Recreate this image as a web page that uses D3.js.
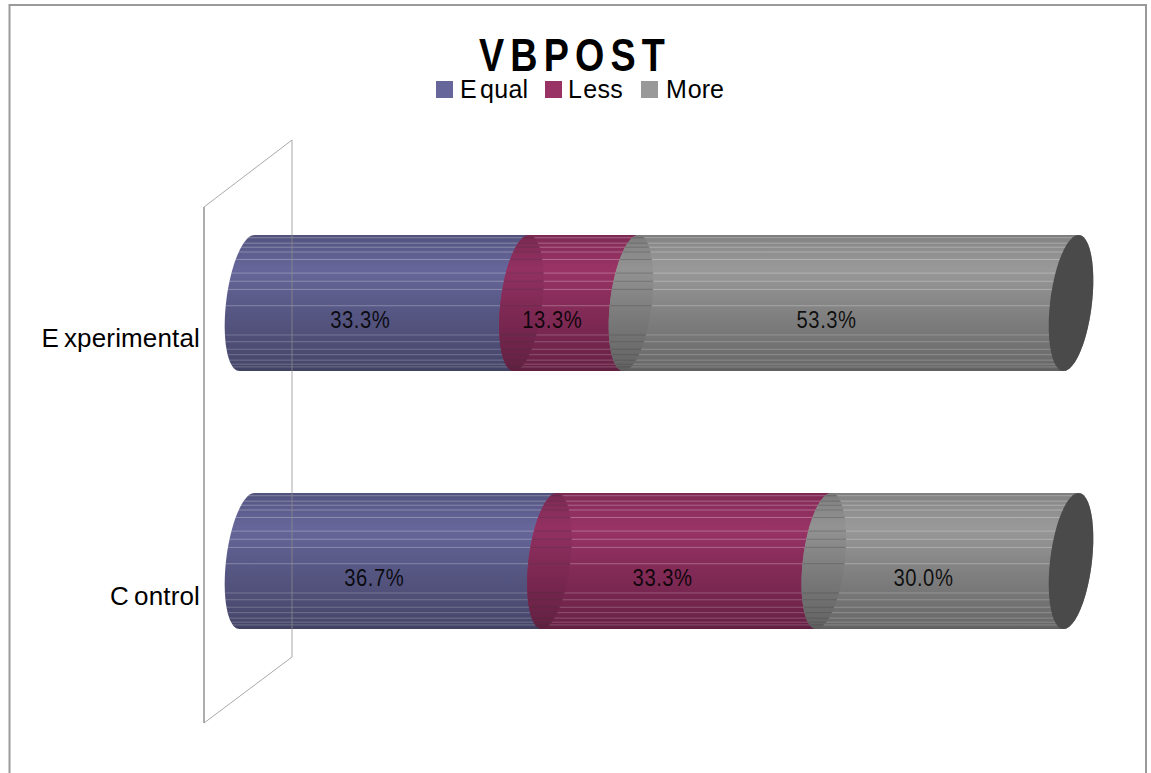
<!DOCTYPE html>
<html><head><meta charset="utf-8">
<script src="https://cdn.jsdelivr.net/npm/d3@7/dist/d3.min.js"></script>
<style>html,body{margin:0;padding:0;background:#fff;overflow:hidden}svg{display:block}text{font-family:"Liberation Sans",Arial,sans-serif;fill:#000}</style>
</head><body><div id="c"></div>
<script>
const categories = ["Experimental", "Control"];
const seriesNames = ["Equal", "Less", "More"];
const equalValues = [33.3, 36.7];
const lessValues = [13.3, 33.3];
const moreValues = [53.3, 30.0];
const seriesValues = [equalValues, lessValues, moreValues];
const seriesColors = ["#66669a", "#993366", "#999999"];
const seriesBottom = ["#47476c", "#6b2247", "#6a6a6a"];
const seriesDeep = ["#5a5a8a", "#8a2e5c", "#8c8c8c"];
const stripeFractions = [.02,.06,.09,.125,.18,.28,.34,.40,.52,.735,.785,.84,.88,.92,.95,.97];

const W = 1151, H = 773;
const svg = d3.select("#c").append("svg").attr("width", W).attr("height", H);
const defs = svg.append("defs");

const x = d3.scaleLinear().domain([0, 100]).range([247, 1071]);
const y = d3.scalePoint().domain(categories).range([303, 561]);
const rx = 21, ry = 68, skew = -7.5;

const pt = (cx, cy, t) => [cx + rx * Math.cos(t) + skew * Math.sin(t), cy + ry * Math.sin(t)];
const arc = (cx, cy, a, b) => d3.range(0, 49).map(i => pt(cx, cy, a + (b - a) * i / 48));
const line = d3.line();
const ellipsePath = (cx, cy) => line(arc(cx, cy, 0, 2 * Math.PI)) + "Z";
const bodyPath = (x0, x1, cy) => line(arc(x0, cy, -Math.PI / 2, -3 * Math.PI / 2 ).concat(arc(x1, cy, Math.PI / 2, -Math.PI / 2))) + "Z";

// Outer frame (runs off the bottom of the picture)
svg.append("path").attr("d", `M9.5 ${H + 5}V5H1146V${H + 5}`).attr("fill", "none").attr("stroke", "#9a9a9a").attr("stroke-width", 2);

// Gradients
seriesNames.forEach((n, i) => {
  const mk = (id, top, mid, bot) => {
    const g = defs.append("linearGradient").attr("id", id).attr("x1", 0).attr("x2", 0).attr("y1", 0).attr("y2", 1);
    [[0, d3.interpolateRgb(top, "#000")(.1)], [.08, top], [.25, mid], [.6, d3.interpolateRgb(mid, bot)(.55)], [.95, bot], [1, d3.interpolateRgb(bot, "#000")(.1)]]
      .forEach(s => g.append("stop").attr("offset", s[0]).attr("stop-color", s[1]));
  };
  mk("g" + i, seriesDeep[i], seriesColors[i], seriesBottom[i]);
  mk("k" + i, d3.interpolateRgb(seriesDeep[i], "#000")(.04), d3.interpolateRgb(seriesColors[i], "#000")(.04), d3.interpolateRgb(seriesBottom[i], "#000")(.04));
});

const stripeY = (cy, f) => cy - ry + f * 2 * ry;
const bars = svg.append("g");
categories.forEach((cat, c) => {
  const cy = y(cat);
  let cum = 0;
  const segs = seriesValues.map((vals, s) => { const d = {s, v: vals[c], a: cum, b: cum + vals[c]}; cum += vals[c]; return d; });
  segs.forEach(d => {
    const x0 = x(d.a), x1 = x(d.s === 2 ? 100 : d.b), id = `b${c}${d.s}`;
    defs.append("clipPath").attr("id", id).append("path").attr("d", bodyPath(x0, x1, cy));
    bars.append("path").attr("d", bodyPath(x0, x1, cy)).attr("fill", `url(#g${d.s})`);
    const lg = bars.append("g").attr("clip-path", `url(#${id})`);
    lg.selectAll("line").data(stripeFractions).join("line")
      .attr("x1", x0 - 30).attr("x2", x1 + 30)
      .attr("y1", f => stripeY(cy, f)).attr("y2", f => stripeY(cy, f))
      .attr("stroke", "#fff").attr("stroke-opacity", (f, i) => i < 9 ? .28 : .22).attr("stroke-width", 1);
    if (d.s > 0) {
      const eid = `e${c}${d.s}`;
      defs.append("clipPath").attr("id", eid).append("path").attr("d", ellipsePath(x0, cy));
      bars.append("path").attr("d", ellipsePath(x0, cy)).attr("fill", `url(#k${d.s})`);
      bars.append("g").attr("clip-path", `url(#${eid})`)
        .selectAll("line").data(stripeFractions).join("line")
        .attr("x1", x0 - 30).attr("x2", x0 + 30)
        .attr("y1", f => stripeY(cy, f)).attr("y2", f => stripeY(cy, f))
        .attr("stroke", "#3a3a3a").attr("stroke-opacity", .28).attr("stroke-width", 1);
    }
  });
  bars.append("path").attr("d", ellipsePath(x(100), cy)).attr("fill", "#4a4a4a");
  segs.forEach(d => {
    svg.append("text").attr("transform", `translate(${x((d.a + d.b) / 2) - 24},${cy + 25}) scale(.88,1)`)
      .attr("text-anchor", "middle").attr("font-size", 23).attr("letter-spacing", .6).attr("fill-opacity", .88)
      .text(d.v.toFixed(1) + "%");
  });
  svg.append("text").attr("x", 200).attr("y", cy + 43.5).attr("text-anchor", "end")
    .attr("font-size", 26).attr("letter-spacing", .15).attr("dx", "0 5").text(cat);
});

// Back wall
svg.append("path").attr("d", "M204 207L292 140V657L204 723Z").attr("fill", "none").attr("stroke", "#8c8c8c").attr("stroke-opacity", .75).attr("stroke-width", 1);
svg.append("line").attr("x1", 204).attr("x2", 204).attr("y1", 207).attr("y2", 723).attr("stroke", "#a0a0a0").attr("stroke-width", 1.5);

// Title
svg.append("text").attr("transform", "translate(575,71) scale(.82,1)").attr("text-anchor", "middle")
  .attr("font-size", 46).attr("font-weight", 700).attr("letter-spacing", 7.5).text("VBPOST");

// Legend
const legX = d3.scaleOrdinal().domain(seriesNames).range([436, 545, 641]);
const leg = svg.append("g");
seriesNames.forEach((n, i) => {
  leg.append("rect").attr("x", legX(n)).attr("y", 81).attr("width", 17).attr("height", 17).attr("fill", seriesColors[i]);
  leg.append("text").attr("x", legX(n) + (n === "More" ? 25 : 23)).attr("y", 98).attr("font-size", 25)
    .attr("letter-spacing", n === "More" ? 0 : .3).attr("dx", n === "Equal" ? "1 3" : "0 1").text(n);
});
</script></body></html>
